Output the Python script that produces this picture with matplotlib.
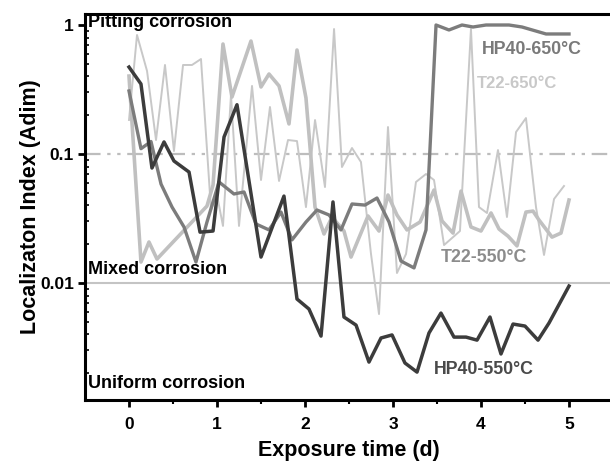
import matplotlib
matplotlib.use("Agg")
import matplotlib.pyplot as plt
from matplotlib.ticker import FixedLocator, LogLocator, NullFormatter, FuncFormatter

plt.rcParams['font.family'] = ['Liberation Sans', 'DejaVu Sans']
plt.rcParams['font.weight'] = 'bold'

# localization index vs exposure time (days)
hp40_550_t = [0.00, 0.136, 0.261, 0.398, 0.511, 0.682, 0.807, 0.955, 1.080, 1.227,
              1.500, 1.761, 1.909, 2.045, 2.182, 2.318, 2.443, 2.580, 2.727, 2.864,
              2.989, 3.136, 3.273, 3.409, 3.545, 3.693, 3.830, 3.955, 4.102, 4.227,
              4.364, 4.500, 4.648, 4.773, 5.000]
hp40_550_li = [0.472, 0.349, 0.0779, 0.124, 0.0883, 0.0725, 0.0248, 0.0253, 0.1355, 0.241,
               0.0159, 0.0472, 0.00752, 0.00629, 0.00388, 0.0425, 0.00545, 0.00472, 0.00244, 0.00375,
               0.00396, 0.00240, 0.00204, 0.00410, 0.00585, 0.00381, 0.00381, 0.00361, 0.00545, 0.00282,
               0.00481, 0.00464, 0.00361, 0.00490, 0.00948]

hp40_650_t = [0.00, 0.136, 0.250, 0.364, 0.489, 0.625, 0.761, 0.886, 1.023, 1.193,
              1.307, 1.443, 1.591, 1.727, 1.852, 2.011, 2.136, 2.273, 2.409, 2.534,
              2.682, 2.818, 2.955, 3.091, 3.239, 3.375, 3.489, 3.636, 3.784, 3.909,
              4.057, 4.318, 4.466, 4.739, 5.000]
hp40_650_li = [0.308, 0.110, 0.125, 0.0585, 0.0388, 0.0272, 0.01455, 0.0297, 0.0607, 0.0490,
               0.0508, 0.0287, 0.0258, 0.0355, 0.0216, 0.0297, 0.0368, 0.0337, 0.0258, 0.0410,
               0.0402, 0.0456, 0.0297, 0.0148, 0.0131, 0.0258, 1.0, 0.915, 1.0, 0.965,
               1.0, 1.0, 0.965, 0.852, 0.852]

t22_550_t = [0.00, 0.136, 0.227, 0.318, 0.886, 0.955, 1.068, 1.170, 1.386, 1.500,
             1.591, 1.705, 1.818, 1.909, 2.011, 2.114, 2.216, 2.307, 2.443, 2.523,
             2.716, 2.841, 2.943, 3.045, 3.159, 3.307, 3.466, 3.557, 3.682, 3.773,
             3.886, 4.000, 4.114, 4.205, 4.307, 4.409, 4.511, 4.591, 4.659, 4.807,
             4.909, 5.000]
t22_550_li = [0.402, 0.01455, 0.0208, 0.01535, 0.0395, 0.0575, 0.712, 0.2765, 0.751, 0.331,
              0.417, 0.337, 0.171, 0.640, 0.272, 0.0388, 0.0240, 0.0325, 0.0253, 0.0159,
              0.0331, 0.0253, 0.0481, 0.0337, 0.0258, 0.0297, 0.0526, 0.0303, 0.0244, 0.0516,
              0.0272, 0.0253, 0.0349, 0.0262, 0.0231, 0.0194, 0.0355, 0.0361, 0.0308, 0.0227,
              0.0244, 0.0440]

t22_650_t = [0.00, 0.091, 0.205, 0.307, 0.409, 0.511, 0.614, 0.716, 0.818, 0.932,
             1.000, 1.068, 1.159, 1.250, 1.398, 1.500, 1.602, 1.705, 1.807, 1.909,
             2.011, 2.114, 2.227, 2.330, 2.420, 2.534, 2.636, 2.750, 2.841, 2.943,
             3.045, 3.148, 3.261, 3.375, 3.466, 3.580, 3.761, 3.886, 3.977, 4.068,
             4.193, 4.295, 4.398, 4.511, 4.625, 4.716, 4.830, 4.943]
t22_650_li = [0.1835, 0.837, 0.440, 0.1284, 0.490, 0.1055, 0.490, 0.490, 0.545, 0.0368,
              0.0481, 0.0277, 0.2866, 0.0277, 0.337, 0.0629, 0.2314, 0.0618, 0.1284, 0.126,
              0.0388, 0.1835, 0.0555, 0.931, 0.0793, 0.1113, 0.0867, 0.0168, 0.00575, 0.1619,
              0.01196, 0.0168, 0.0607, 0.070, 0.0629, 0.0197, 0.0253, 0.931, 0.0388, 0.0349,
              0.1074, 0.0325, 0.148, 0.190, 0.0388, 0.0165, 0.0448, 0.0565]

fig = plt.figure(figsize=(6.10, 4.61), dpi=100)
ax = fig.add_axes([85 / 610, 1 - 400 / 461, 528 / 610, 386 / 461])

# regime boundaries
ax.axhline(0.1, color='#bdbdbd', lw=1.6, dashes=(7, 3, 1.5, 3, 1.5, 3), zorder=1)
ax.axhline(0.01, color='#c4c4c4', lw=1.5, zorder=1)

ax.plot(t22_650_t, t22_650_li, color='#c8c8c8', lw=1.4, zorder=2)
ax.plot(t22_550_t, t22_550_li, color='#c0c0c0', lw=2.6, zorder=3)
ax.plot(hp40_650_t, hp40_650_li, color='#7c7c7c', lw=2.4, zorder=4)
ax.plot(hp40_550_t, hp40_550_li, color='#3c3c3c', lw=2.5, zorder=5)

ax.set_yscale('log')
ax.set_xlim(-0.5, 5.5)
ax.set_ylim(0.00124, 1.217)

ax.xaxis.set_major_locator(FixedLocator([0, 1, 2, 3, 4, 5]))
ax.xaxis.set_minor_locator(FixedLocator([0.5, 1.5, 2.5, 3.5, 4.5]))
ax.yaxis.set_major_locator(FixedLocator([0.01, 0.1, 1]))
ax.yaxis.set_major_formatter(FuncFormatter(lambda v, p: '%g' % v))
ax.yaxis.set_minor_locator(LogLocator(base=10, subs=range(2, 10)))
ax.yaxis.set_minor_formatter(NullFormatter())

ax.tick_params(axis='both', which='major', direction='out', length=5, width=2,
               labelsize=12.5)
ax.tick_params(axis='x', which='major', pad=7)
ax.tick_params(axis='y', which='major', pad=3)
ax.tick_params(axis='x', which='minor', direction='out', length=3, width=1.5)
ax.tick_params(axis='y', which='minor', direction='in', length=3, width=1.2)
for lab in ax.get_xticklabels() + ax.get_yticklabels():
    lab.set_fontweight('bold')

for side in ['left', 'bottom', 'top']:
    ax.spines[side].set_linewidth(2.2)
ax.spines['right'].set_visible(False)

ax.set_xlabel('Exposure time (d)', fontsize=15.5, fontweight='bold', labelpad=6)
ax.set_ylabel('Localizaton Index (Adim)', fontsize=15.5, fontweight='bold', labelpad=-1)

ax.text(0.006, 0.977, 'Pitting corrosion', transform=ax.transAxes, fontsize=13,
        fontweight='bold', va='center', ha='left')
ax.text(0.006, 0.337, 'Mixed corrosion', transform=ax.transAxes, fontsize=13,
        fontweight='bold', va='center', ha='left')
ax.text(0.006, 0.044, 'Uniform corrosion', transform=ax.transAxes, fontsize=13,
        fontweight='bold', va='center', ha='left')

ax.text(4.01, 0.651, 'HP40-650°C', color='#7a7a7a', fontsize=12.8, fontweight='bold', va='center')
ax.text(3.955, 0.349, 'T22-650°C', color='#c8c8c8', fontsize=12, fontweight='bold', va='center')
ax.text(3.545, 0.0159, 'T22-550°C', color='#8c8c8c', fontsize=12.8, fontweight='bold', va='center')
ax.text(3.466, 0.00212, 'HP40-550°C', color='#4a4a4a', fontsize=12.8, fontweight='bold', va='center')

fig.savefig('out.png', dpi=100)
